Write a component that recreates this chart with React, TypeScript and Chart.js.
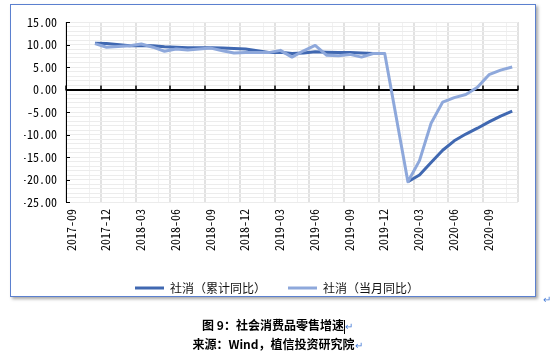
import React, { useEffect, useRef } from 'react';
import { Chart, registerables } from 'chart.js';

Chart.register(...registerables);

// ---- data ----
const months = [
  '2017-11', '2017-12',
  '2018-02', '2018-03', '2018-04', '2018-05', '2018-06', '2018-07', '2018-08', '2018-09', '2018-10', '2018-11', '2018-12',
  '2019-02', '2019-03', '2019-04', '2019-05', '2019-06', '2019-07', '2019-08', '2019-09', '2019-10', '2019-11', '2019-12',
  '2020-02', '2020-03', '2020-04', '2020-05', '2020-06', '2020-07', '2020-08', '2020-09', '2020-10', '2020-11',
];

const cumulativeYoY: (number | null)[] = [
  10.3, 10.2,
  9.7, 9.8, 9.7, 9.5, 9.4, 9.3, 9.3, 9.3, 9.2, 9.1, 9.0,
  8.2, 8.3, 8.0, 8.1, 8.4, 8.3, 8.2, 8.2, 8.1, 8.0, null,
  -20.5, -19.0, -16.2, -13.5, -11.4, -9.9, -8.6, -7.2, -5.9, -4.8,
];

const monthlyYoY: (number | null)[] = [
  10.2, 9.4,
  9.7, 10.1, 9.4, 8.5, 9.0, 8.8, 9.0, 9.2, 8.6, 8.1, 8.2,
  8.2, 8.7, 7.2, 8.6, 9.8, 7.6, 7.5, 7.8, 7.2, 8.0, 8.0,
  -20.5, -15.8, -7.5, -2.8, -1.8, -1.1, 0.5, 3.3, 4.3, 5.0,
];

const xTickLabels = [
  '2017-09', '2017-12', '2018-03', '2018-06', '2018-09', '2018-12',
  '2019-03', '2019-06', '2019-09', '2019-12', '2020-03', '2020-06', '2020-09',
];

const seriesNames = ['社消（累计同比）', '社消（当月同比）'];
const caption = '图 9：社会消费品零售增速';
const source = '来源：Wind，植信投资研究院';

// axis runs month by month from 2017-09 to 2020-12; each value sits mid-month
const axisStartYear = 2017;
const axisStartMonth = 9;
const monthPos = (s: string) => {
  const [yy, mm] = s.split('-').map(Number);
  return (yy - axisStartYear) * 12 + (mm - axisStartMonth) + 0.5;
};

const DARK = '#4068B1';
const LIGHT = '#8EA8DB';
const TICK_FONT = { family: "'Noto Sans Mono CJK SC', 'DejaVu Sans Mono', monospace", size: 12 };
const CJK_FONT = "'Noto Sans CJK SC', 'Noto Sans', sans-serif";

const axisMarks = {
  id: 'axisMarks',
  afterLayout(chart: any) {
    if (chart.legend) {
      chart.legend.left += 6;
      chart.legend.right += 6;
    }
  },
  beforeDatasetsDraw(chart: any) {
    const { ctx, scales } = chart;
    const x = scales.x;
    const y = scales.y;
    const y0 = y.getPixelForValue(0);
    ctx.save();
    ctx.strokeStyle = '#000';
    ctx.lineWidth = 1.5;
    ctx.beginPath();
    x.ticks.forEach((t: any) => {
      if (t.value % 3 === 0) {
        const px = Math.round(x.getPixelForValue(t.value));
        ctx.moveTo(px, y0 - 4);
        ctx.lineTo(px, y0 + 1);
      }
    });
    ctx.stroke();
    ctx.lineWidth = 1;
    ctx.beginPath();
    y.ticks.forEach((t: any) => {
      if (t.value % 5 === 0) {
        const py = Math.round(y.getPixelForValue(t.value)) + 0.5;
        ctx.moveTo(x.left, py);
        ctx.lineTo(x.left + 4, py);
      }
    });
    ctx.stroke();
    ctx.restore();
  },
};

function ChartCanvas() {
  const ref = useRef<HTMLCanvasElement | null>(null);
  useEffect(() => {
    if (!ref.current) return;
    const chart = new Chart(ref.current, {
      type: 'line',
      data: {
        datasets: [
          {
            label: seriesNames[0],
            data: months.map((m, i) => ({ x: monthPos(m), y: cumulativeYoY[i] })),
            borderColor: DARK,
            backgroundColor: DARK,
            borderWidth: 3,
            pointRadius: 0,
            pointStyle: 'line',
            tension: 0,
            spanGaps: false,
            borderJoinStyle: 'round',
            order: 1,
          },
          {
            label: seriesNames[1],
            data: months.map((m, i) => ({ x: monthPos(m), y: monthlyYoY[i] })),
            borderColor: LIGHT,
            backgroundColor: LIGHT,
            borderWidth: 3,
            pointRadius: 0,
            pointStyle: 'line',
            tension: 0,
            spanGaps: false,
            borderJoinStyle: 'round',
            order: 0,
          },
        ],
      },
      options: {
        animation: false,
        responsive: false,
        devicePixelRatio: 1,
        layout: { padding: { left: 24, right: 32, top: 22, bottom: 16 } },
        plugins: {
          tooltip: { enabled: false },
          legend: {
            position: 'bottom',
            labels: {
              usePointStyle: true,
              pointStyle: 'line',
              pointStyleWidth: 29,
              boxHeight: 12,
              padding: 22,
              color: '#111',
              font: { family: CJK_FONT, size: 12 },
              sort: (a: any, b: any) => a.datasetIndex - b.datasetIndex,
            },
          },
        },
        scales: {
          x: {
            type: 'linear',
            min: 0,
            max: 39,
            afterFit(scale: any) {
              const chart = scale.chart;
              const lg = chart.legend;
              const lh = lg && lg.height ? lg.height : 32;
              scale.height = chart.height - 16 - lh - 202;
            },
            border: { display: false },
            grid: {
              drawTicks: false,
              color: (c: any) => {
                const v = c.tick ? c.tick.value : 0;
                if (v % 3 === 0) return '#E2E2E2';
                if (v % 3 === 2) return '#F1F1F1';
                return 'rgba(0,0,0,0)';
              },
              lineWidth: (c: any) => {
                const v = c.tick ? c.tick.value : 0;
                return v % 3 === 0 ? 2 : 1;
              },
            },
            ticks: {
              stepSize: 1,
              autoSkip: false,
              maxRotation: 90,
              minRotation: 90,
              labelOffset: 5,
              padding: 7,
              color: '#000',
              font: TICK_FONT,
              callback: (v: any) => (v % 3 === 0 && v / 3 < xTickLabels.length ? xTickLabels[v / 3] : ''),
            },
          },
          y: {
            min: -25,
            max: 15,
            afterFit(scale: any) {
              scale.width = 42;
            },
            border: { display: true, color: '#000', width: 1 },
            grid: {
              drawTicks: false,
              color: (c: any) => (c.tick && c.tick.value === 0 ? '#000' : '#ECECEC'),
              lineWidth: (c: any) => (c.tick && c.tick.value === 0 ? 2 : 1),
            },
            ticks: {
              stepSize: 1,
              autoSkip: false,
              padding: 9,
              color: '#000',
              font: TICK_FONT,
              callback: (v: any) => (v % 5 === 0 ? Number(v).toFixed(2) : ''),
            },
          },
        },
      },
      plugins: [axisMarks],
    } as any);
    return () => chart.destroy();
  }, []);
  return <canvas ref={ref} width={550} height={320} style={{ position: 'absolute', left: 0, top: 0 }} />;
}

export default function App() {
  const ret = <span style={{ color: '#4A7FD8', fontWeight: 'normal', fontSize: 10 }}>↵</span>;
  return (
    <div
      style={{
        position: 'absolute',
        left: 0,
        top: 0,
        width: 550,
        height: 355,
        overflow: 'hidden',
        background: '#fff',
        fontFamily: CJK_FONT,
      }}
    >
      <div
        style={{
          position: 'absolute',
          left: 10,
          top: 4,
          width: 526,
          height: 293,
          boxSizing: 'border-box',
          border: '1.5px solid #5B80CF',
          boxShadow: '2px 2px 3px rgba(0,0,0,0.35)',
          background: '#fff',
        }}
      />
      <ChartCanvas />
      <div style={{ position: 'absolute', left: 543, top: 291, color: '#4A7FD8', fontSize: 10 }}>↵</div>
      <div
        style={{
          position: 'absolute',
          left: 0,
          top: 316,
          width: 555,
          textAlign: 'center',
          fontSize: 12,
          lineHeight: '18px',
          fontWeight: 'bold',
          color: '#000',
        }}
      >
        {caption}
        <span style={{ display: 'inline-block', width: 0, height: 14, borderLeft: '1px solid #000', verticalAlign: 'middle' }} />
        {ret}
      </div>
      <div
        style={{
          position: 'absolute',
          left: 0,
          top: 335,
          width: 555,
          textAlign: 'center',
          fontSize: 12,
          lineHeight: '18px',
          fontWeight: 'bold',
          color: '#000',
        }}
      >
        {source}
        {ret}
      </div>
    </div>
  );
}
